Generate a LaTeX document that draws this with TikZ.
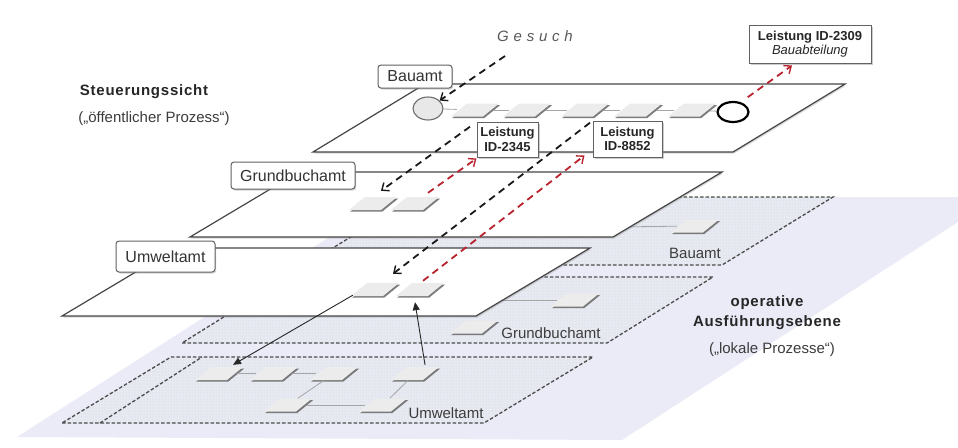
\documentclass[tikz,border=0pt]{standalone}
\usepackage{fontspec}
\setmainfont{Liberation Sans}
\usetikzlibrary{shapes.geometric,arrows.meta,shadows,patterns,calc}
\definecolor{band}{RGB}{234,235,247}
\definecolor{opfill}{RGB}{232,234,242}
\definecolor{opdot}{RGB}{205,208,221}
\definecolor{edge}{RGB}{70,70,70}
\definecolor{darkred}{RGB}{185,35,45}
\definecolor{taskfill}{RGB}{236,236,236}
\definecolor{conn}{RGB}{165,165,165}
\definecolor{txt}{RGB}{60,60,60}
\tikzset{
  plane/.style={draw=edge, line width=1.2pt, fill=white,
    drop shadow={shadow xshift=1.2pt, shadow yshift=-1.5pt, opacity=0.3}},
  opborder/.style={draw=black!70, line width=1.3pt, dash pattern=on 3.5pt off 2pt},
  tasknode/.style={rectangle, minimum width=36pt, minimum height=13pt, inner sep=0pt, draw=none},
  taskshadow/.style={fill=black!60, opacity=0.85},
  taskbody/.style={fill=taskfill},
  tconn/.style={draw=conn, line width=0.8pt},
  planelabel/.style={draw=edge!85, fill=white, rounded corners=3pt, line width=1pt,
    inner sep=0pt, font=\fontsize{16}{18}\selectfont, text=black!80,
    drop shadow={shadow xshift=1.2pt, shadow yshift=-1.5pt, opacity=0.35}},
  leistung/.style={draw=edge!85, fill=white, line width=1pt, inner sep=0pt,
    align=center, font=\bfseries\fontsize{13}{14.5}\selectfont, text=black!85,
    drop shadow={shadow xshift=1.5pt, shadow yshift=-1.5pt, opacity=0.4}},
  oplabel/.style={font=\fontsize{15}{17}\selectfont, text=txt, inner sep=0pt},
  heading/.style={font=\bfseries\fontsize{15}{17}\selectfont\addfontfeatures{LetterSpace=5}, text=black!85, inner sep=0pt},
  subheading/.style={font=\fontsize{15}{17}\selectfont, text=txt, inner sep=0pt},
  blackdash/.style={draw=black!90, line width=1.8pt, dash pattern=on 7pt off 5pt,
    -{Straight Barb[length=6pt,width=10pt,line width=1.4pt]}},
  reddash/.style={draw=darkred, line width=1.8pt, dash pattern=on 7pt off 5pt,
    -{Straight Barb[length=6pt,width=10pt,line width=1.4pt]}},
  solidarrow/.style={draw=black!85, line width=0.9pt, -{Triangle[length=8pt,width=7pt]}},
}
% task: name, x, y (centre)
\newcommand\tsk[3]{%
  \fill[taskshadow, shift={(#2,#3)}] (-22.8,8.1) -- (9.2,8.1) -- (25.2,-4.9) -- (-6.8,-4.9) -- cycle;
  \fill[taskbody, shift={(#2,#3)}] (-24,6.5) -- (8,6.5) -- (24,-6.5) -- (-8,-6.5) -- cycle;
  \node[tasknode] (#1) at (#2,#3) {};%
}
\def\opA{(305,265) -- (722,265) -- (833,197) -- (416,197) -- cycle}
\def\opB{(182,343) -- (607,343) -- (713,277) -- (288,277) -- cycle}
\def\opC{(62,423) -- (484,423) -- (593,357) -- (171,357) -- cycle}
\begin{document}
\begin{tikzpicture}[x=1pt,y=-1pt]
\useasboundingbox (0,0) rectangle (958,447);
\fill[white] (0,0) rectangle (958,447);
% background band of the operative level
\fill[band] (17,437) -- (622,440) -- (958,222) -- (958,197) -- (392,197) -- cycle;

% operative planes
\foreach \p in {\opA,\opB,\opC}{
  \fill[opfill] \p;
  \path[pattern=dots, pattern color=opdot] \p;
  \draw[opborder] \p;
}
\draw[opborder] (100,423) -- (202,357);

% operative tasks
\tsk{BO1}{695}{226}
\coordinate (bo0) at (612,227);
\draw[tconn] (bo0) -- (BO1);
\tsk{GO1}{575}{300}
\tsk{GO2}{474}{327}
\coordinate (go0) at (495,300);
\draw[tconn] (go0) -- (GO1);
\tsk{UO1}{219}{373.5}
\tsk{UO2}{274}{373.5}
\tsk{UO3}{334}{373.5}
\tsk{UO4}{415}{373.5}
\tsk{UO5}{288}{405}
\tsk{UO6}{383}{405}
\draw[tconn] (UO1) -- (UO2);
\draw[tconn] (UO2) -- (UO3);
\draw[tconn] (UO3) -- (UO5);
\draw[tconn] (UO5) -- (UO6);
\draw[tconn] (UO4) -- (UO6);

\node[oplabel] (opBau) at (695,253) {Bauamt};
\node[oplabel] (opGrund) at (551,333) {Grundbuchamt};
\node[oplabel] (opUmwelt) at (446,413) {Umweltamt};

% control planes
\draw[plane] (313,152) -- (733,152) -- (845,84) -- (425,84) -- cycle;
\draw[plane] (190,237) -- (613,237) -- (722,172) -- (299,172) -- cycle;
\draw[plane] (62,316) -- (476,316) -- (590,248) -- (176,248) -- cycle;

\node[planelabel, minimum width=74pt, minimum height=23pt] (labBau) at (415,76.5) {Bauamt};
\node[planelabel, minimum width=124pt, minimum height=27pt] (labGrund) at (293,175.5) {Grundbuchamt};
\node[planelabel, minimum width=99pt, minimum height=31pt] (labUmwelt) at (165.5,256.5) {Umweltamt};

% top process
\node[ellipse, draw=edge!80, fill=gray!18, line width=1.1pt, minimum width=30pt, minimum height=23pt, inner sep=0pt] (start) at (428,108.5) {};
\node[ellipse, draw=black, fill=white, line width=2.2pt, minimum width=31pt, minimum height=20pt, inner sep=0pt] (end) at (733,112) {};
\tsk{T1}{475}{110}
\tsk{T2}{527}{110}
\tsk{T3}{585}{110}
\tsk{T4}{638}{110}
\tsk{T5}{692}{110}
\draw[tconn] (start) -- (T1);
\draw[tconn] (T1) -- (T2);
\draw[tconn] (T2) -- (T3);
\draw[tconn] (T3) -- (T4);
\draw[tconn] (T4) -- (T5);
\draw[tconn] (T5) -- (end);

\tsk{G1}{373}{203.5}
\tsk{G2}{415}{203.5}
\tsk{U1}{375}{289.5}
\tsk{U2}{420}{289.5}

% service boxes
\node[leistung, minimum width=122pt, minimum height=38pt] (L2309) at (810,44)
  {Leistung ID-2309\\[-1pt]{\mdseries\itshape Bauabteilung}};
\node[leistung, minimum width=61pt, minimum height=35pt] (L2345) at (507.5,139.5) {Leistung\\ID-2345};
\node[leistung, minimum width=69pt, minimum height=36pt] (L8852) at (627.5,139) {Leistung\\ID-8852};

% texts
\node[heading] (steu) at (144,92) {Steuerungssicht};
\node[subheading] (steusub) at (154,119) {(„öffentlicher Prozess“)};
\node[font=\itshape\fontsize{15}{17}\selectfont\addfontfeatures{LetterSpace=32}, text=black!65, inner sep=0pt] (gesuch) at (535,36) {Gesuch};
\node[heading] (op1) at (767,303) {operative};
\node[heading] (op2) at (767,323) {Ausführungsebene};
\node[subheading] (op3) at (772,350) {(„lokale Prozesse“)};

% arrows
\coordinate (gs) at (505,56);
\draw[blackdash] (gs) -- (start);
\draw[reddash] ($(end.north east)+(3,-7)$) -- ($(L2309.south)+(-18,2)$);
\draw[blackdash] ($(T1.south)+(-5,10)$) -- ($(G1.north)+(8,-6)$);
\draw[reddash] ($(G2.north)+(13,-4)$) -- ($(L2345.south west)+(0,1)$);
\draw[blackdash] ($(T3.south)+(5,6)$) -- ($(U1.north)+(18,-9)$);
\draw[reddash] ($(U2.north)+(3,-2)$) -- ($(L8852.south west)+(-8,-2)$);
\draw[solidarrow] ($(U1.south west)+(-4,-1)$) -- ($(UO1.north)+(14,-2)$);
\draw[solidarrow] ($(UO4.north)+(10,-2)$) -- ($(U2.south)+(-5,6)$);
\end{tikzpicture}
\end{document}
